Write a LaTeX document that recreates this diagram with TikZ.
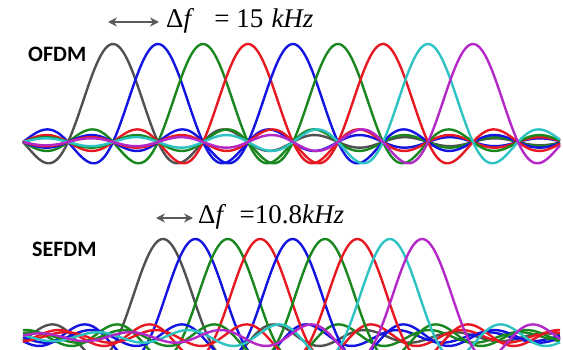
\documentclass[tikz,border=0pt]{standalone}
\usepackage{fontspec}
\newfontfamily\lblfont{Carlito}
\newfontfamily\eqfont{Liberation Serif}
\usetikzlibrary{arrows.meta}
\definecolor{scgray}{RGB}{80,80,80}
\definecolor{scblue}{RGB}{20,20,225}
\definecolor{scgreen}{RGB}{25,135,30}
\definecolor{scred}{RGB}{230,25,35}
\definecolor{sccyan}{RGB}{45,195,195}
\definecolor{scmagenta}{RGB}{180,40,200}
\definecolor{arrowgray}{RGB}{90,90,90}

\begin{document}
\begin{tikzpicture}[x=1pt, y=-1pt,
    carrier/.style={line width=2.4pt, line join=round},
    scheme/.style={font=\lblfont\bfseries\fontsize{22}{24}\selectfont, anchor=base west, inner sep=0pt},
    spacing/.style={font=\eqfont\fontsize{27}{29}\selectfont, anchor=base west, inner sep=0pt},
    gap/.style={arrowgray, line width=1.8pt, {Stealth[length=9pt,width=9pt]}-{Stealth[length=9pt,width=9pt]}}]
  \useasboundingbox (0,0) rectangle (563,350);

  % OFDM: subcarriers 45 apart
  \foreach \col [count=\k from 0] in {scgray,scblue,scgreen,scred,scblue,scgreen,scred,sccyan,scmagenta} {
    \pgfmathsetmacro{\ctr}{113+45*\k}
    \draw[carrier,\col] plot[domain=23:560, samples=320]
      (\x, {142-98*sin(4*(\x-\ctr+0.001))/(3.14159*(\x-\ctr+0.001)/45)});
  }
  \node[scheme] (ofdm) at (28,62) {OFDM};
  \coordinate (g1l) at (108,22);
  \coordinate (g1r) at (159,22);
  \draw[gap] (g1l) -- (g1r);
  \node[spacing] (df1) at (166,28) {Δ\textit{f}\hspace{0.75em}= 15\hspace{0.3em}\textit{kHz}};

  % SEFDM: subcarriers squeezed to 0.72 of that
  \begin{scope}
    \clip (0,0) rectangle (563,350);
    \foreach \col [count=\k from 0] in {scgray,scblue,scgreen,scred,scblue,scgreen,scred,sccyan,scmagenta} {
      \pgfmathsetmacro{\ctr}{163+32.4*\k}
      \draw[carrier,\col] plot[domain=23:560, samples=320]
        (\x, {337-98*sin(4*(\x-\ctr+0.001))/(3.14159*(\x-\ctr+0.001)/45)});
    }
  \end{scope}
  \node[scheme] (sefdm) at (32,257) {SEFDM};
  \coordinate (g2l) at (156,218);
  \coordinate (g2r) at (193,218);
  \draw[gap] (g2l) -- (g2r);
  \node[spacing] (df2) at (198,224) {Δ\textit{f}\hspace{0.5em}=10.8\textit{kHz}};
\end{tikzpicture}
\end{document}
